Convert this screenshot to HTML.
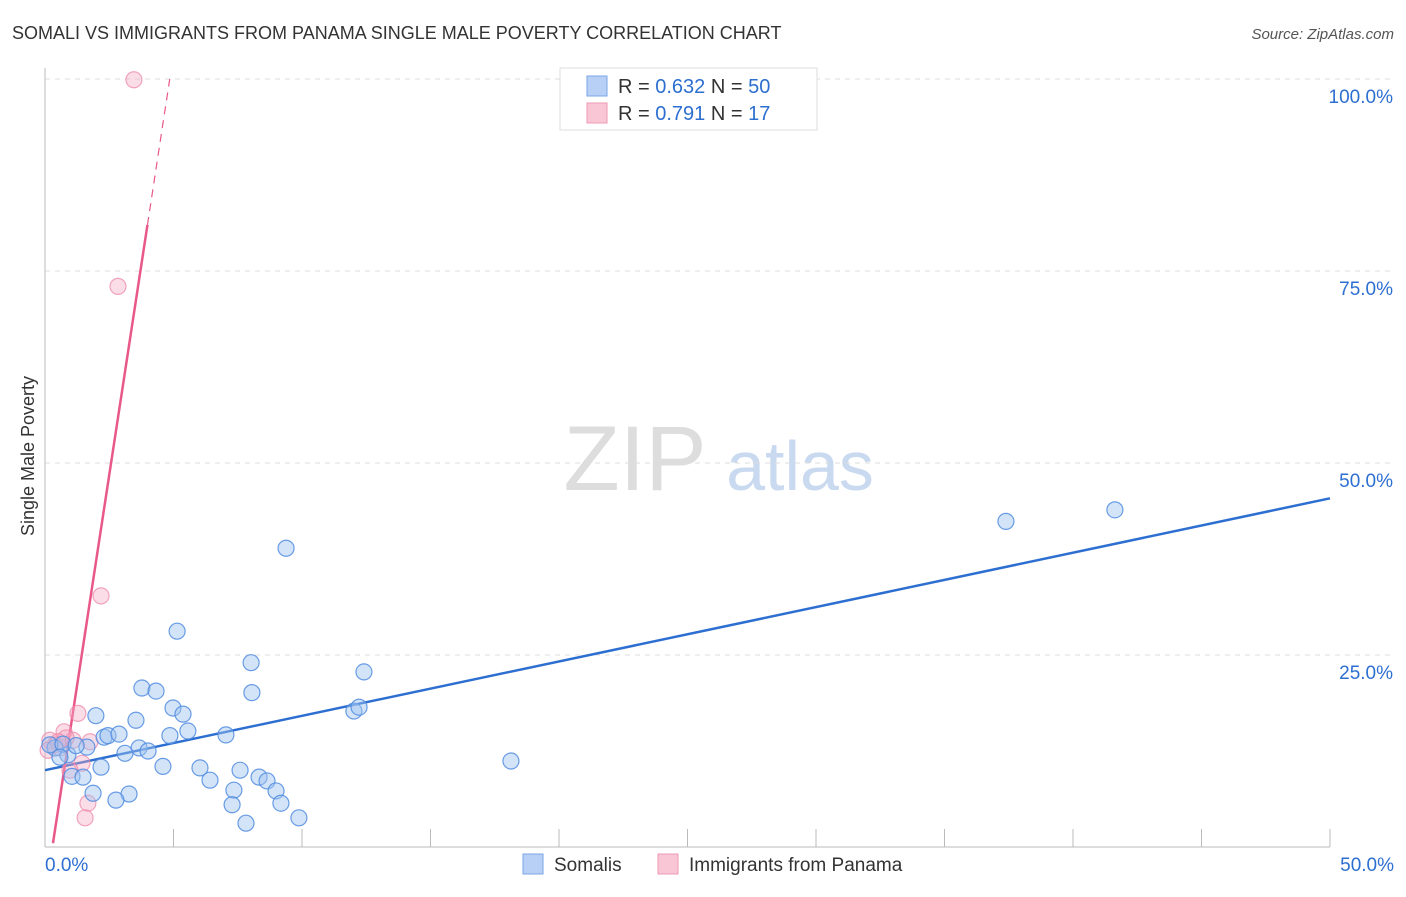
<!DOCTYPE html>
<html><head><meta charset="utf-8"><style>
body{margin:0;background:#fff;font-family:"Liberation Sans",sans-serif;}
svg text{font-family:"Liberation Sans",sans-serif;}
</style></head><body>
<svg id="c" width="1406" height="892" xmlns="http://www.w3.org/2000/svg">
<text x="12" y="39" font-size="18" fill="#333">SOMALI VS IMMIGRANTS FROM PANAMA SINGLE MALE POVERTY CORRELATION CHART</text>
<text x="1394" y="39" font-size="15" fill="#555" text-anchor="end" font-style="italic">Source: ZipAtlas.com</text>
<text transform="translate(34,456) rotate(-90)" font-size="18" fill="#333" text-anchor="middle">Single Male Poverty</text>
<g>
<text x="635" y="490" font-size="92" fill="#ddd" text-anchor="middle" font-family="Liberation Serif,serif">ZIP</text>
<text x="800" y="490" font-size="70" fill="#c9d9f0" text-anchor="middle">atlas</text>
</g>
<g id="grid"></g><g id="axes"></g><g id="lines"></g><g id="pts"></g>
<g>
<rect x="560" y="68" width="257" height="62" fill="#fff" stroke="#ddd"/>
<rect x="587" y="76" width="20" height="20" fill="#b8d0f5" stroke="#7aa6e6"/>
<text x="618" y="93" font-size="20" fill="#333">R = <tspan fill="#2d6fd0">0.632</tspan>   N = <tspan fill="#2d6fd0">50</tspan></text>
<rect x="587" y="103" width="20" height="20" fill="#f9c6d6" stroke="#ee9ab4"/>
<text x="618" y="120" font-size="20" fill="#333">R =  <tspan fill="#2d6fd0">0.791</tspan>   N =  <tspan fill="#2d6fd0">17</tspan></text>
</g>
<g>
<rect x="523" y="854" width="20" height="20" fill="#b8d0f5" stroke="#7aa6e6"/>
<text x="554" y="871" font-size="19" fill="#333">Somalis</text>
<rect x="658" y="854" width="20" height="20" fill="#f9c6d6" stroke="#ee9ab4"/>
<text x="689" y="871" font-size="19" fill="#333">Immigrants from Panama</text>
</g>
</svg>
<script>
const blueX=[9.38,5.14,8.02,12.41,3.77,4.32,8.05,4.98,5.37,12.02,12.22,1.98,3.54,5.56,2.30,2.45,2.88,4.86,7.04,1.63,3.66,4.01,3.11,0.89,0.39,0.19,4.59,2.18,6.03,7.59,1.05,1.48,6.42,8.33,8.64,1.87,3.27,2.76,7.35,8.99,7.28,9.18,7.82,9.88,18.13,37.39,41.63,0.70,0.58,1.21];
const blueY=[38.9,28.1,24.0,22.8,20.7,20.3,20.1,18.1,17.3,17.7,18.2,17.1,16.5,15.1,14.3,14.5,14.7,14.5,14.6,13.0,12.9,12.5,12.2,12.0,12.9,13.3,10.5,10.4,10.3,10.0,9.2,9.1,8.7,9.1,8.6,7.0,6.9,6.1,7.4,7.3,5.5,5.7,3.1,3.8,11.2,42.4,43.9,13.4,11.7,13.2];
const pinkX=[3.46,2.84,2.18,1.28,0.74,0.19,0.39,0.58,1.09,1.75,1.44,0.97,1.67,1.56,0.12,0.82,0.51];
const pinkY=[99.9,73.0,32.7,17.4,15.0,13.9,13.3,12.9,13.9,13.7,10.9,10.0,5.7,3.8,12.6,14.2,13.7];
const yTicks=[25,50,75,100];
const yTickLabels=["25.0%","50.0%","75.0%","100.0%"];
const blueTrend=[10.0,45.4];
const pinkTrend=[-6.3,21.9];
const NS="http://www.w3.org/2000/svg";
const X=v=>45+v*25.7, Y=v=>847-v*7.68;
function mk(p,t,a){const e=document.createElementNS(NS,t);for(const k in a)e.setAttribute(k,a[k]);document.getElementById(p).appendChild(e);return e;}
yTicks.forEach((t,i)=>{
 const g=mk('grid','line',{x1:45,x2:1394,y1:Y(t),y2:Y(t),stroke:'#ddd','stroke-dasharray':'5,5'});
 
 
 const l=mk('grid','text',{x:1393,y:Y(t)+24,'font-size':19,fill:'#2d6fd0','text-anchor':'end'});
 l.textContent=yTickLabels[i];
 
 
});
const ax=mk('axes','line',{x1:45,x2:45,y1:68,y2:847,stroke:'#bbb'});


const bx=mk('axes','line',{x1:45,x2:1330,y1:847,y2:847,stroke:'#bbb'});


for(let i=1;i<=10;i++){const t=mk('axes','line',{x1:X(i*5),x2:X(i*5),y1:829,y2:847,stroke:'#bbb'});
 
 }
[[0,"0.0%",'start',45],[50,"50.0%",'end',1394]].forEach(a=>{const t=mk('axes','text',{x:a[3],y:871,'font-size':19,fill:'#2d6fd0','text-anchor':a[2]});t.textContent=a[1];
 
 });
const bl=mk('lines','line',{x1:X(0),y1:Y(blueTrend[0]),x2:X(50),y2:Y(blueTrend[1]),stroke:'#2d6fd0','stroke-width':2.5});


const pf=x=>pinkTrend[0]+pinkTrend[1]*x;
const x0=(0.5-pinkTrend[0])/pinkTrend[1], x1=(81-pinkTrend[0])/pinkTrend[1], x2=(100-pinkTrend[0])/pinkTrend[1];
const pl=mk('lines','line',{x1:X(x0),y1:Y(pf(x0)),x2:X(x1),y2:Y(pf(x1)),stroke:'#e8588a','stroke-width':2.5});


const pd=mk('lines','line',{x1:X(x1),y1:Y(pf(x1)),x2:X(x2),y2:Y(pf(x2)),stroke:'#e8588a','stroke-width':1.2,'stroke-dasharray':'8,6'});


pinkX.forEach((v,i)=>{const c=mk('pts','circle',{cx:X(v),cy:Y(pinkY[i]),r:8,fill:'rgba(246,170,195,0.4)',stroke:'rgba(236,130,165,0.7)','stroke-width':1.2});
 
 });
blueX.forEach((v,i)=>{const c=mk('pts','circle',{cx:X(v),cy:Y(blueY[i]),r:8,fill:'rgba(160,195,240,0.45)',stroke:'rgba(80,140,225,0.85)','stroke-width':1.2});
 
 });
</script>
</body></html>
